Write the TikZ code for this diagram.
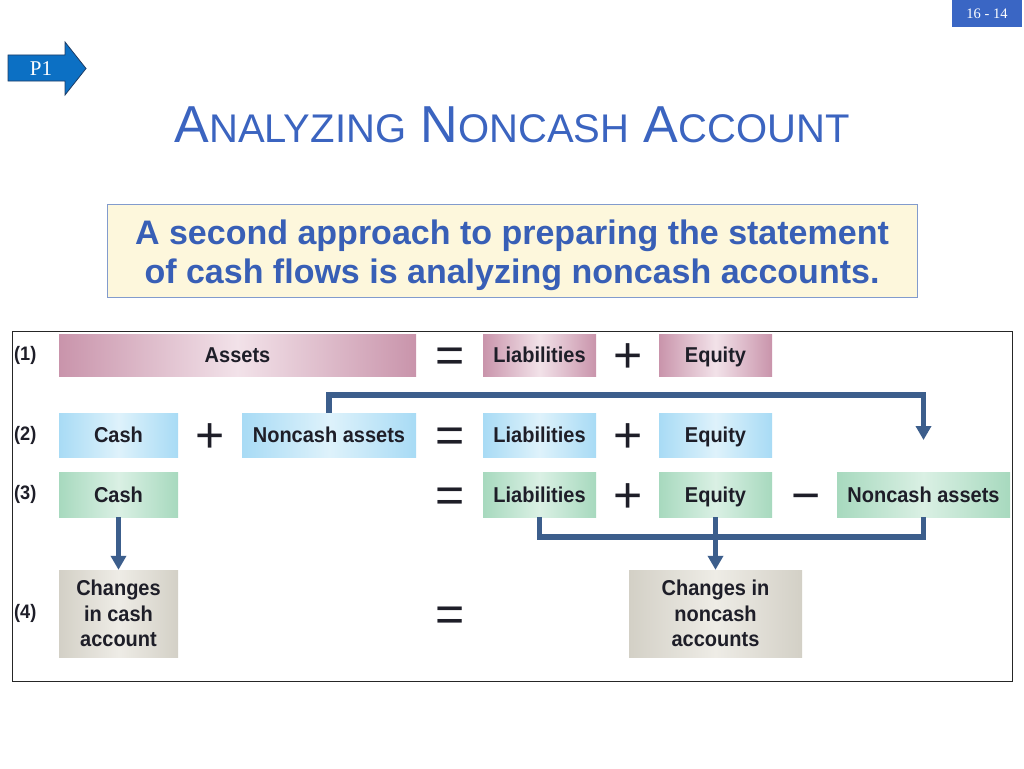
\documentclass[tikz,border=0pt]{standalone}
\usepackage{fontspec}
\setmainfont{Liberation Sans}
\newfontfamily\boxfont{Liberation Sans}[FakeStretch=0.93]
\newfontfamily\numfont{Liberation Serif}
\usetikzlibrary{arrows.meta}

\definecolor{titleblue}{RGB}{59,100,192}
\definecolor{notefill}{RGB}{253,247,220}
\definecolor{noteline}{RGB}{130,155,205}
\definecolor{tagblue}{RGB}{58,102,196}
\definecolor{arrowblue}{RGB}{12,112,196}
\definecolor{arrowline}{RGB}{30,60,100}
\definecolor{flowblue}{RGB}{60,94,140}
\definecolor{pinkedge}{RGB}{201,148,171}
\definecolor{pinkmid}{RGB}{242,226,233}
\definecolor{blueedge}{RGB}{168,219,245}
\definecolor{bluemid}{RGB}{222,242,251}
\definecolor{greenedge}{RGB}{167,217,190}
\definecolor{greenmid}{RGB}{218,240,228}
\definecolor{grayedge}{RGB}{211,208,198}
\definecolor{graymid}{RGB}{238,236,230}
\definecolor{boxtext}{RGB}{30,30,40}

\newcommand{\titlesc}[1]{{\fontsize{40}{40}\selectfont #1}}

\begin{document}
\begin{tikzpicture}[x=1pt, y=-1pt,
	acct/.style={inner sep=0pt, text=boxtext, align=center,
		font=\boxfont\bfseries\fontsize{21.5}{25.5}\selectfont},
	oneline/.style={acct, text height=15.4pt, text depth=0pt},
	pinkbox/.style={oneline, left color=pinkedge, right color=pinkedge, middle color=pinkmid},
	bluebox/.style={oneline, left color=blueedge, right color=blueedge, middle color=bluemid},
	greenbox/.style={oneline, left color=greenedge, right color=greenedge, middle color=greenmid},
	graybox/.style={acct, left color=grayedge, right color=grayedge, middle color=graymid},
	rowtag/.style={anchor=west, inner sep=0pt, text=boxtext,
		font=\boxfont\bfseries\fontsize{19.5}{19.5}\selectfont},
	op/.style={inner sep=0pt, text=boxtext, text height=35pt, text depth=0pt,
		font=\fontsize{50}{50}\selectfont},
	flowline/.style={line width=5.5pt, draw=flowblue},
	flow/.style={flowline, -{Triangle[width=15pt,length=14pt]}}]

% page and frame
	\path[fill=white] (0,0) rectangle (1024,768);
	\useasboundingbox (0,0) rectangle (1024,768);
	\draw[line width=0.8pt, black!85] (12,331) rectangle (1012,681);

% slide number and objective tag
	\node[fill=tagblue, minimum width=70, minimum height=27, inner sep=0pt, text=white,
		font=\numfont\fontsize{14.5}{14.5}\selectfont] (slideno) at (987,13.5) {16 - 14};
	\filldraw[fill=arrowblue, draw=arrowline, line width=0.8pt]
		(8,55) -- (65,55) -- (65,42) -- (86,68.5) -- (65,95) -- (65,81) -- (8,81) -- cycle;
	\node[text=white, inner sep=0pt, font=\numfont\fontsize{21}{21}\selectfont] (ptag) at (41,68.5) {P1};

% title and note
	\node[text=titleblue, inner sep=0pt, font=\fontsize{52}{52}\selectfont] (title) at (512,125)
		{A\titlesc{NALYZING} N\titlesc{ONCASH} A\titlesc{CCOUNT}};
	\node[draw=noteline, fill=notefill, line width=0.8pt, minimum width=810, minimum height=93] (note) at (512,250.5) {};
	\node[text=titleblue!95!black, align=center, inner sep=0pt,
		font=\bfseries\fontsize{34}{39}\selectfont] (notetext) at (512,255.5)
		{A second approach to preparing the statement\\of cash flows is analyzing noncash accounts.};

% row (1)
	\node[rowtag] (tag1) at (14,355) {(1)};
	\node[pinkbox, minimum width=357, minimum height=42] (assets1) at (237.5,355) {Assets};
	\node[op] (eqa) at (450,355) {=};
	\node[pinkbox, minimum width=113, minimum height=42] (liab1) at (539.5,355) {Liabilities};
	\node[op] (plusa) at (628,355) {+};
	\node[pinkbox, minimum width=113, minimum height=42] (eq1) at (715.5,355) {Equity};

% row (2)
	\node[rowtag] (tag2) at (14,435) {(2)};
	\node[bluebox, minimum width=119, minimum height=44] (cash2) at (118.5,435) {Cash};
	\node[op] (plusb) at (210,435) {+};
	\node[bluebox, minimum width=174, minimum height=44] (nc2) at (329,435) {Noncash assets};
	\node[op] (eqb) at (450,435) {=};
	\node[bluebox, minimum width=113, minimum height=44] (liab2) at (539.5,435) {Liabilities};
	\node[op] (plusc) at (628,435) {+};
	\node[bluebox, minimum width=113, minimum height=44] (eq2) at (715.5,435) {Equity};

% row (3)
	\node[rowtag] (tag3) at (14,494.5) {(3)};
	\node[greenbox, minimum width=119, minimum height=45] (cash3) at (118.5,494.5) {Cash};
	\node[op] (eqc) at (450,494.5) {=};
	\node[greenbox, minimum width=113, minimum height=45] (liab3) at (539.5,494.5) {Liabilities};
	\node[op] (plusd) at (628,494.5) {+};
	\node[greenbox, minimum width=113, minimum height=45] (eq3) at (715.5,494.5) {Equity};
	\node[op] (minus) at (806,494.5) {−};
	\node[greenbox, minimum width=173, minimum height=45] (nc3) at (923.5,494.5) {Noncash assets};

% row (4)
	\node[rowtag] (tag4) at (14,613.5) {(4)};
	\node[graybox, minimum width=119, minimum height=87] (chcash) at (118.5,613.5) {Changes\\in cash\\account};
	\node[op] (eqd) at (450,613.5) {=};
	\node[graybox, minimum width=173, minimum height=87] (chnc) at (715.5,613.5) {Changes in\\noncash\\accounts};

% connectors
	\coordinate (drop) at (923.5,440);
	\draw[flow] (nc2.north) -- ++(0,-18) -| (drop);
	\draw[flow] (cash3.south) -- (chcash.north);
	\draw[flowline] (liab3.south) -- ++(0,20) -| (nc3.south);
	\draw[flow] (eq3.south) -- (chnc.north);

\end{tikzpicture}
\end{document}
